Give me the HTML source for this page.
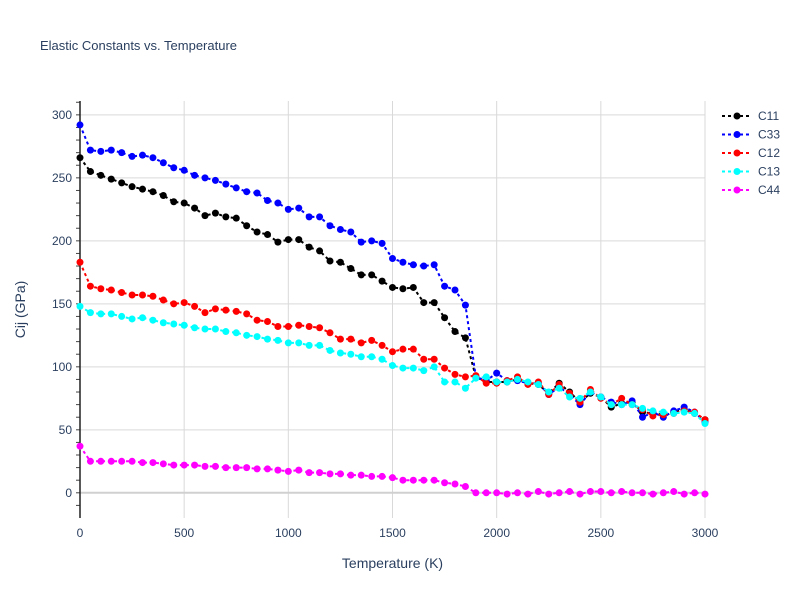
<!DOCTYPE html>
<html><head><meta charset="utf-8"><style>
body{margin:0;background:#fff;font-family:"Liberation Sans",sans-serif}
</style></head><body>
<svg id="chart" width="800" height="600" xmlns="http://www.w3.org/2000/svg" style="font-family:'Liberation Sans',sans-serif">
<text x="40" y="50" font-size="13" fill="#2a3f5f">Elastic Constants vs. Temperature</text>
<g id="grid"></g><g id="axes"></g><g id="series"></g><g id="legend"></g>
</svg>
<script>
const temps = [];
for (let t = 0; t <= 3000; t += 50) temps.push(t);
const c11 = [266,255,252,249,246,243,241,239,236,231,230,226,220,222,219,218,212,207,205,199,201,201,195,192,184,183,178,173,173,168,163,162,163,151,151,139,128,123,92,88,88,88,90,87,86,79,87,80,72,79,76,68,71,72,64,63,62,64,66,63,58];
const c33 = [292,272,271,272,270,267,268,266,262,258,256,252,250,248,245,242,239,238,232,230,225,226,219,219,212,209,207,199,200,198,186,183,181,180,181,164,161,149,92,89,95,89,89,87,87,78,84,78,70,80,76,72,70,73,60,64,60,65,68,64,56];
const c12 = [183,164,162,161,159,157,157,156,153,150,151,148,143,146,145,144,142,137,136,132,132,133,132,131,127,122,122,119,121,117,112,114,114,106,106,99,94,92,93,87,87,89,92,86,88,78,86,79,72,82,75,70,75,70,66,61,62,63,65,64,58];
const c13 = [148,143,142,142,140,138,139,137,135,134,133,131,130,130,128,127,125,124,122,121,119,119,117,117,113,111,110,108,108,106,101,99,99,97,100,88,88,83,91,92,88,88,90,88,86,80,83,76,75,80,76,70,70,70,67,65,64,63,64,63,55];
const c44 = [37,25,25,25,25,25,24,24,23,22,22,22,21,21,20,20,20,19,19,18,17,18,16,16,15,15,14,14,13,13,12,10,10,10,10,8,7,5,0,0,0,-1,0,-1,1,-1,0,1,-1,1,1,0,1,0,0,-1,0,1,-1,0,-1];
const seriesNames = ["C11","C33","C12","C13","C44"];
const seriesColors = ["#000000","#0000ff","#ff0000","#00ffff","#ff00ff"];
const seriesData = [c11,c33,c12,c13,c44];
const xTicks = [0,500,1000,1500,2000,2500,3000];
const yTicks = [0,50,100,150,200,250,300];

const NS="http://www.w3.org/2000/svg";
const X0=80,X1=705,Y0=518,Y1=101,xmin=0,xmax=3000,ymin=-20,ymax=311;
const sx=v=>X0+(v-xmin)/(xmax-xmin)*(X1-X0);
const sy=v=>Y0-(v-ymin)/(ymax-ymin)*(Y0-Y1);
function mk(tag,attrs,parent){const e=document.createElementNS(NS,tag);for(const k in attrs)e.setAttribute(k,attrs[k]);parent.appendChild(e);return e;}
const grid=document.getElementById('grid'),axes=document.getElementById('axes'),ser=document.getElementById('series'),leg=document.getElementById('legend');
xTicks.forEach(t=>{
  const l=mk('line',{x1:sx(t),x2:sx(t),y1:Y1,y2:Y0,stroke:'#d9d9d9','stroke-width':1},grid);
  
  
  const tx=mk('text',{x:sx(t),y:Y0+19,'text-anchor':'middle','font-size':12,fill:'#2a3f5f'},axes);
  tx.textContent=t;
  
  
});
yTicks.forEach(t=>{
  const l=mk('line',{x1:X0,x2:X1,y1:sy(t),y2:sy(t),stroke:t===0?'#d0d0d0':'#d9d9d9','stroke-width':t===0?2:1},grid);
  
  
  const tx=mk('text',{x:X0-8,y:sy(t)+4,'text-anchor':'end','font-size':12,fill:'#2a3f5f'},axes);
  tx.textContent=t;
  
  
});
for(let v=-10;v<=310;v+=10){
  const m=mk('line',{x1:X0-4,x2:X0,y1:sy(v),y2:sy(v),stroke:'#444','stroke-width':1},axes);
  
  
}
const ya=mk('line',{x1:X0,x2:X0,y1:Y1,y2:Y0,stroke:'#222','stroke-width':1.5},axes);


const xt=mk('text',{x:(X0+X1)/2,y:568,'text-anchor':'middle','font-size':14,fill:'#2a3f5f'},axes);
xt.textContent='Temperature (K)';


const yt=mk('text',{x:25,y:(Y0+Y1)/2,'text-anchor':'middle','font-size':14,fill:'#2a3f5f',transform:`rotate(-90 25 ${(Y0+Y1)/2})`},axes);
yt.textContent='Cij (GPa)';



seriesData.forEach((d,i)=>{
  const g=mk('g',{},ser);
  
  
  const pts=d.map((v,j)=>sx(temps[j])+','+sy(v)).join(' ');
  const pl=mk('polyline',{points:pts,fill:'none',stroke:seriesColors[i],'stroke-width':2,'stroke-dasharray':'3,3'},g);
  
  
  d.forEach((v,j)=>{
    const c=mk('circle',{cx:sx(temps[j]),cy:sy(v),r:3.5,fill:seriesColors[i]},g);
    
    
  });
  const ly=116+i*18.5;
  const lg=mk('g',{},leg);
  
  
  mk('line',{x1:722,x2:752,y1:ly,y2:ly,stroke:seriesColors[i],'stroke-width':2,'stroke-dasharray':'3,3'},lg);
  mk('circle',{cx:737,cy:ly,r:3.5,fill:seriesColors[i]},lg);
  const lt=mk('text',{x:758,y:ly+4,'font-size':12,fill:'#2a3f5f'},lg);
  lt.textContent=seriesNames[i];
});
</script>
</body></html>
